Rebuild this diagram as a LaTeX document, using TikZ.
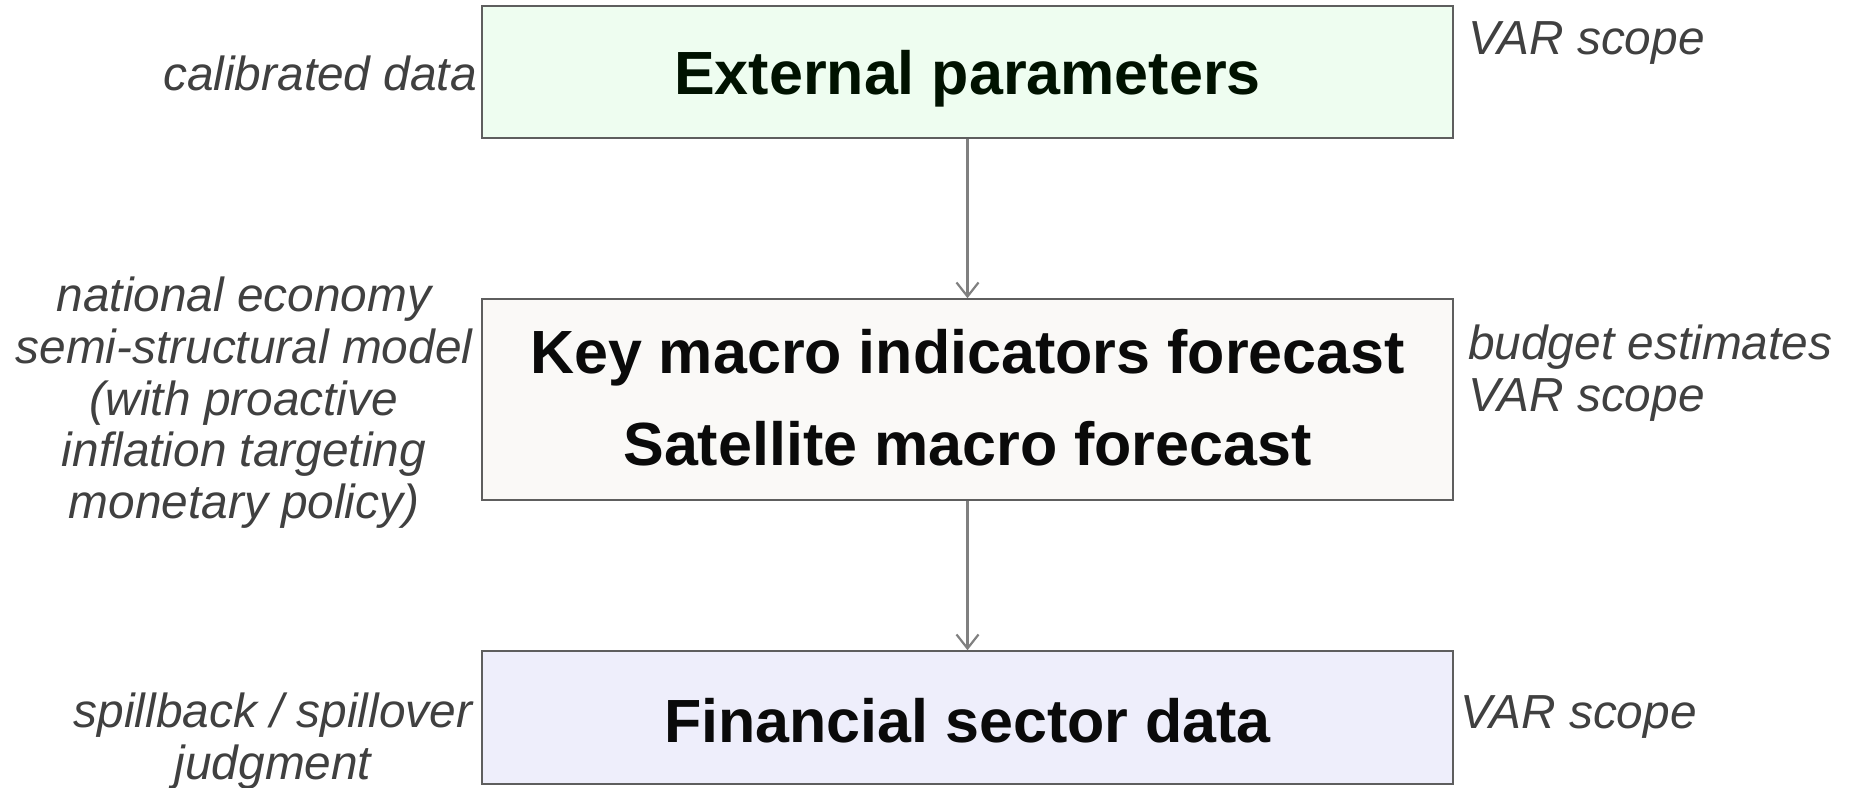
\documentclass[tikz,border=0pt]{standalone}
\usepackage{fontspec}
\setmainfont{Liberation Sans}
\usetikzlibrary{arrows.meta}
\definecolor{topfill}{HTML}{EEFDF0}
\definecolor{midfill}{HTML}{FAF9F7}
\definecolor{botfill}{HTML}{EEEEFB}
\definecolor{boxline}{HTML}{5E5E5E}
\definecolor{labelcol}{HTML}{404040}
\definecolor{arrowcol}{HTML}{808080}
\definecolor{titlecol}{HTML}{0A0A0A}
\definecolor{titlegreen}{HTML}{001200}
\begin{document}
\begin{tikzpicture}[x=1pt,y=-1pt,
  flowbox/.style={draw=boxline, line width=1.5pt, minimum width=971pt, inner sep=0pt, align=center,
    font=\bfseries\fontsize{61}{92}\selectfont, text=titlecol},
  sidelabel/.style={inner sep=0pt, align=center, text=labelcol, font=\itshape\fontsize{47.8}{51.7}\selectfont},
  flowarrow/.style={draw=arrowcol, line width=2.2pt, -{Straight Barb[length=14pt, width=22pt]}}]
\useasboundingbox (0,0) rectangle (1852,787);
\node[flowbox, fill=topfill, minimum height=132pt, text height=44pt, text depth=0pt, text=titlegreen] (ext) at (967.5,72) {External parameters};
\node[flowbox, fill=midfill, minimum height=201pt, text depth=5pt] (mac) at (967.5,399.5) {Key macro indicators forecast\\Satellite macro forecast};
\node[flowbox, fill=botfill, minimum height=133pt, text height=50pt, text depth=0pt] (fin) at (967.5,717.5) {Financial sector data};
\draw[flowarrow] (ext.south) -- (mac.north);
\draw[flowarrow] (mac.south) -- (fin.north);
\node[sidelabel, anchor=base east] (cal) at (477,90) {calibrated data};
\node[sidelabel, anchor=base west] (var1) at (1468,54) {VAR scope};
\node[sidelabel, anchor=north] (nat) at (244,277) {national economy\\semi-structural model\\(with proactive\\inflation targeting\\monetary policy)};
\node[sidelabel, anchor=north west, align=left] (bud) at (1468,325) {budget estimates\\VAR scope};
\node[sidelabel, anchor=base west] (var3) at (1460,728) {VAR scope};
\node[sidelabel, anchor=north] (spill) at (273,693) {spillback / spillover\\judgment};
\end{tikzpicture}
\end{document}
